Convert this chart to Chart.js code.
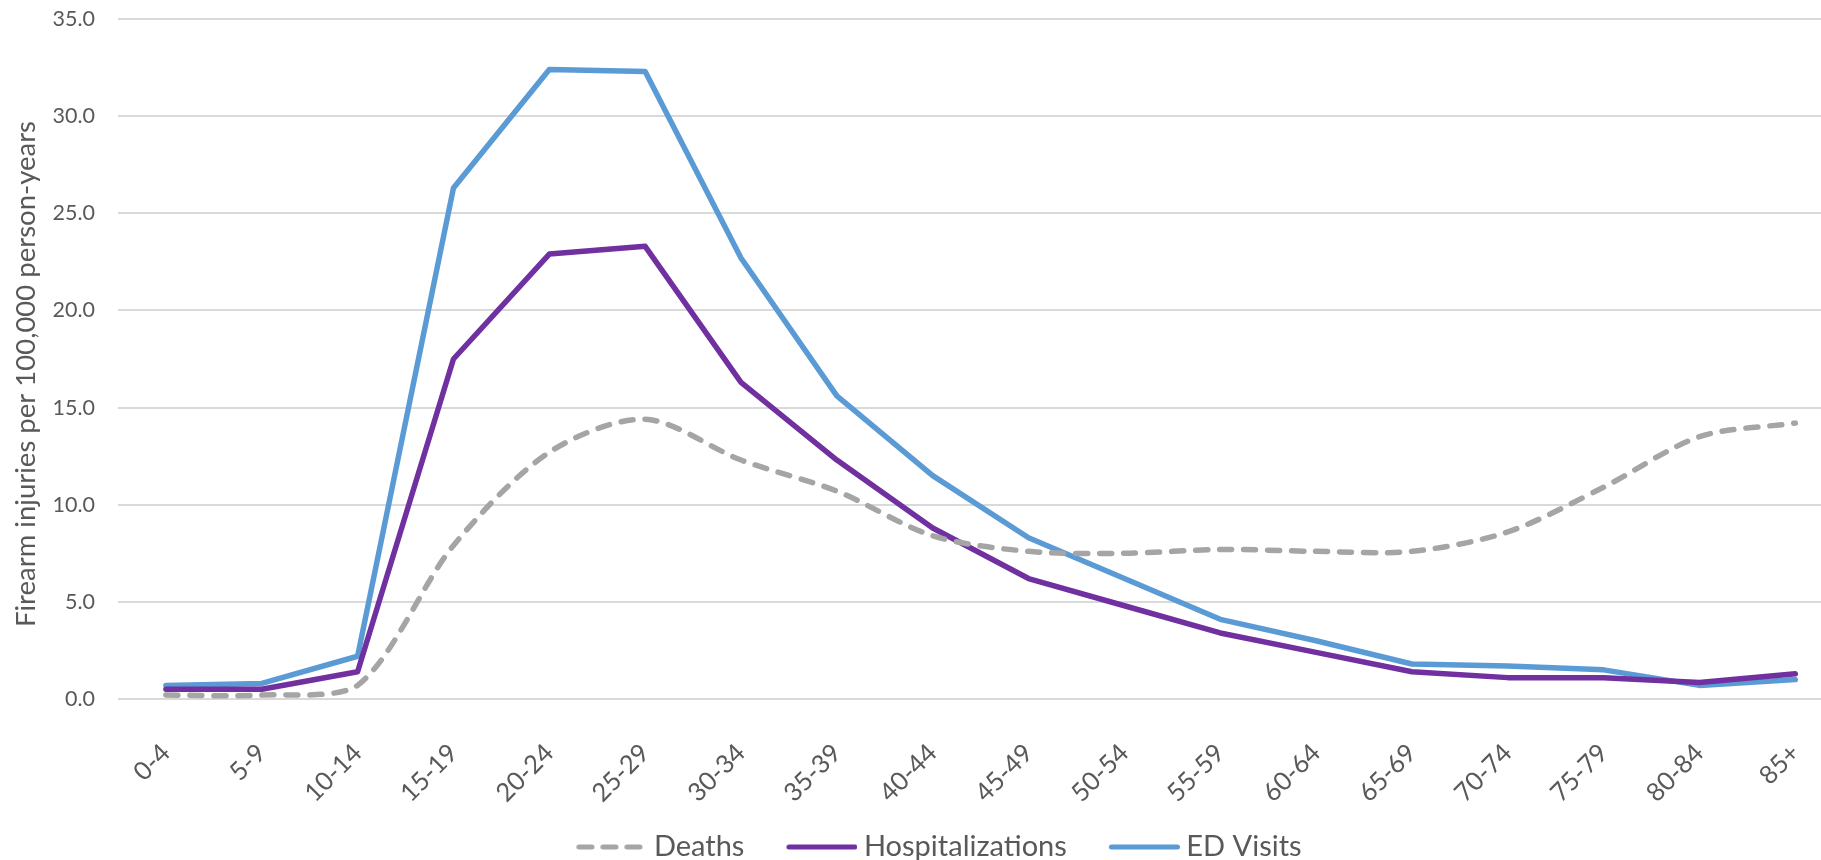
<!DOCTYPE html>
<html>
<head>
<meta charset="utf-8">
<script src="https://cdn.jsdelivr.net/npm/chart.js@4"></script>
<style>
  html, body { margin: 0; padding: 0; background: #fff; overflow: hidden; }
  #wrap { width: 1848px; height: 860px; position: relative; }
</style>
</head>
<body>
<div id="wrap"><canvas id="myChart"></canvas></div>
<script>
// age groups on the x axis
const ageGroups = ['0-4','5-9','10-14','15-19','20-24','25-29','30-34','35-39','40-44',
  '45-49','50-54','55-59','60-64','65-69','70-74','75-79','80-84','85+'];

// rates per 100,000 person-years
const deaths = [0.2, 0.2, 0.7, 7.9, 12.7, 14.4, 12.3, 10.7, 8.4, 7.6, 7.5, 7.7, 7.6, 7.6, 8.6, 10.9, 13.5, 14.2];
const hospitalizations = [0.5, 0.5, 1.4, 17.5, 22.9, 23.3, 16.3, 12.3, 8.8, 6.2, 4.8, 3.4, 2.4, 1.4, 1.1, 1.1, 0.85, 1.3];
const edVisits = [0.7, 0.8, 2.2, 26.3, 32.4, 32.3, 22.7, 15.6, 11.5, 8.3, 6.2, 4.1, 3.0, 1.8, 1.7, 1.5, 0.7, 1.0];

const yTicks = [0, 5, 10, 15, 20, 25, 30, 35];
const yTitle = 'Firearm injuries per 100,000 person-years';

const fontFam = 'Lato, "Open Sans", sans-serif';
const textCol = '#595959';
const colors = ['#A5A5A5', '#7030A0', '#5B9BD5'];

// little line pictures for the legend (dash kept for Deaths)
// blank strip on the left gives the gap between legend items
function legendLine(color, dash) {
  const c = document.createElement('canvas');
  c.width = 111; c.height = 10;
  const g = c.getContext('2d');
  g.strokeStyle = color;
  g.lineWidth = 5;
  g.lineCap = 'round';
  g.setLineDash(dash);
  g.beginPath();
  g.moveTo(42.5, 5);
  g.lineTo(108.5, 5);
  g.stroke();
  return c;
}
const legendPics = [
  legendLine(colors[0], [13, 11]),
  legendLine(colors[1], []),
  legendLine(colors[2], [])
];

// y title drawn by hand so it can sit a little lower, like the original
const yTitlePlugin = {
  id: 'yTitle',
  afterDraw(chart) {
    const c = chart.ctx;
    c.save();
    c.translate(26, 374);
    c.rotate(-Math.PI / 2);
    c.font = '27.5px ' + fontFam;
    c.fillStyle = textCol;
    c.textAlign = 'center';
    c.textBaseline = 'middle';
    c.fillText(yTitle, 0, 0);
    c.restore();
  }
};

const chartData = {
  labels: ageGroups,
  datasets: [{
    label: 'Deaths',
    data: deaths,
    borderColor: colors[0],
    backgroundColor: colors[0],
    borderWidth: 5.5,
    borderDash: [12, 12],
    borderCapStyle: 'round',
    tension: 0.3,
    pointRadius: 0,
    fill: false
  }, {
    label: 'Hospitalizations',
    data: hospitalizations,
    borderColor: colors[1],
    backgroundColor: colors[1],
    borderWidth: 5.5,
    borderCapStyle: 'round',
    borderJoinStyle: 'round',
    tension: 0,
    pointRadius: 0,
    fill: false
  }, {
    label: 'ED Visits',
    data: edVisits,
    borderColor: colors[2],
    backgroundColor: colors[2],
    borderWidth: 5.5,
    borderCapStyle: 'round',
    borderJoinStyle: 'round',
    tension: 0,
    pointRadius: 0,
    fill: false
  }]
};

const config = {
  type: 'line',
  data: chartData,
  plugins: [yTitlePlugin],
  options: {
    responsive: true,
    maintainAspectRatio: false,
    animation: false,
    layout: { padding: { left: 0, right: 2, top: 19, bottom: -11.5 } },
    plugins: {
      tooltip: { enabled: false },
      legend: {
        position: 'bottom',
        labels: {
          usePointStyle: true,
          pointStyleWidth: 95,
          boxHeight: 8,
          padding: 10,
          color: textCol,
          font: { family: fontFam, size: 29 },
          generateLabels: function(chart) {
            const items = Chart.defaults.plugins.legend.labels.generateLabels(chart);
            items.forEach((it, i) => { it.pointStyle = legendPics[i]; });
            return items;
          }
        }
      }
    },
    scales: {
      x: {
        offset: true,
        afterFit: function(scale) { scale.height = 123.5; },
        grid: { display: false },
        border: { display: false },
        ticks: {
          minRotation: 45,
          maxRotation: 45,
          padding: 31,
          color: textCol,
          font: { family: fontFam, size: 25.5 }
        }
      },
      y: {
        min: 0,
        max: 35,
        afterBuildTicks: function(scale) {
          scale.ticks = yTicks.map(v => ({ value: v }));
        },
        afterFit: function(scale) {
          scale.width = 118;
          scale.paddingTop = 0;
          scale.paddingBottom = 0;
        },
        grid: { color: '#D9D9D9', lineWidth: 2, drawTicks: false },
        border: { display: false },
        ticks: {
          padding: 23,
          color: textCol,
          font: { family: fontFam, size: 21.5 },
          callback: v => v.toFixed(1)
        }
      }
    }
  }
};

const ctx = document.getElementById('myChart');
new Chart(ctx, config);
</script>
</body>
</html>
